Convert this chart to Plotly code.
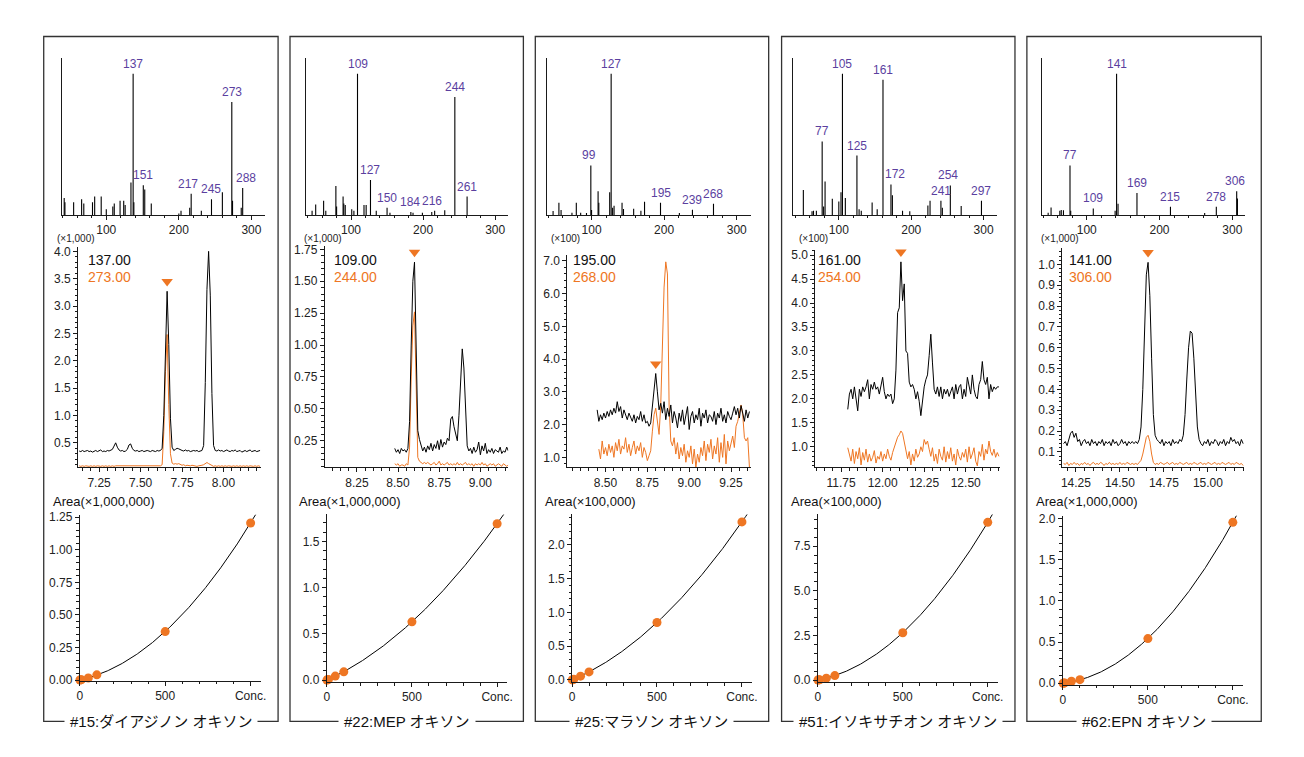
import numpy as np
import plotly.graph_objects as go

W, H = 1304, 757

# ---------------- data ----------------
compounds = ["#15:ダイアジノン オキソン", "#22:MEP オキソン", "#25:マラソン オキソン",
             "#51:イソキサチオン オキソン", "#62:EPN オキソン"]

# mass spectra: m/z and relative intensity (%)
ms1_mz = [42, 43, 55, 66, 69, 81, 84, 93, 100, 109, 111, 119, 124, 126, 134, 137, 138, 151, 153,
          162, 200, 203, 215, 217, 231, 245, 260, 273, 274, 286, 288]
ms1_int = [12, 9, 9, 11, 8, 9, 13, 13, 4, 6, 8, 10, 10, 7, 23, 100, 9, 21, 18,
           8, 1, 3, 5, 15, 3, 11, 16, 80, 10, 5, 19]
ms2_mz = [46, 51, 62, 65, 79, 80, 89, 90, 92, 101, 104, 109, 118, 121, 127, 135, 150, 154, 183,
          186, 199, 212, 216, 230, 244, 261]
ms2_int = [3, 7.4, 10, 3, 20.5, 6, 13, 8, 7, 4, 3, 100, 7, 7, 24.7, 3, 5, 1.5, 2,
           1.5, 1.5, 2, 3, 3.3, 83.5, 13]
ms3_mz = [47, 55, 58, 73, 79, 85, 93, 99, 100, 109, 110, 125, 127, 129, 131, 142, 144, 158, 168,
          173, 195, 221, 239, 268]
ms3_int = [2.7, 8.6, 3.5, 1.5, 8.6, 1.5, 1.4, 35, 3.5, 16.7, 8.6, 16, 100, 5, 6.5, 8.6, 4.2, 4.4, 3,
           9.3, 8.6, 1.4, 3.7, 7.9]
ms4_mz = [51, 63, 65, 69, 77, 79, 81, 91, 100, 103, 105, 109, 125, 128, 131, 146, 153, 161, 172,
          174, 188, 198, 223, 226, 241, 243, 254, 269, 297]
ms4_int = [17.6, 2.5, 3, 3, 52, 6, 23.7, 11.4, 9.5, 16, 100, 12, 42, 4, 3, 8.8, 4, 95.8, 21.6,
           14, 3, 2.5, 6.7, 10, 10, 5, 20.9, 6.3, 10]
ms5_mz = [47, 51, 63, 65, 68, 77, 78, 109, 139, 141, 143, 169, 215, 262, 278, 306, 307]
ms5_int = [1.6, 5.3, 3, 3.5, 3.2, 35, 3, 4.6, 3, 100, 7.9, 15.5, 5.8, 1.4, 5.8, 16.7, 11.6]
ms_labels = [[137, 151, 217, 245, 273, 288],
             [109, 127, 150, 184, 216, 244, 261],
             [99, 127, 195, 239, 268],
             [77, 105, 125, 161, 172, 241, 254, 297],
             [77, 109, 141, 169, 215, 278, 306]]
ms_label_ref = [[137, 151, 217, 245, 273, 288],
                [109, 127, 150, 183, 216, 244, 261],
                [99, 127, 195, 239, 268],
                [77, 105, 125, 161, 172, 241, 254, 297],
                [77, 109, 141, 169, 215, 278, 306]]

# chromatograms (sampling interval 0.01 min)
ion_target = ["137.00", "109.00", "195.00", "161.00", "141.00"]
ion_qual = ["273.00", "244.00", "268.00", "254.00", "306.00"]
chrom_scale = ["(×1,000)", "(×1,000)", "(×100)", "(×100)", "(×1,000)"]
rt_target = [7.66, 8.60, 8.80, 12.11, 14.66]
dt = 0.01

c1_t0_black, c1_t0_orange = 7.13, 7.13
c1_black = [.35, .34, .36, .34, .35, .36, .34, .35, .33, .35,
            .36, .34, .35, .37, .34, .35, .34, .36, .35, .36,
            .38, .44, .50, .42, .37, .35, .36, .34, .35, .38,
            .46, .48, .40, .36, .35, .36, .34, .35, .36, .34,
            .35, .36, .35, .34, .36, .35, .34, .36, .35, .36,
            .40, 1.00, 2.20, 3.27, 2.30, .95, .42, .36, .38, .40,
            .39, .37, .36, .35, .37, .35, .36, .34, .35, .36,
            .35, .36, .34, .35, .36, .45, 1.60, 3.30, 4.00, 3.20,
            1.40, .45, .36, .35, .37, .35, .36, .34, .35, .37,
            .35, .34, .36, .35, .37, .34, .35, .36, .33, .35,
            .36, .34, .35, .37, .34, .35, .36, .34, .35, .36]
c1_orange = [.08, .07, .08, .07, .08, .07, .07, .08, .07, .08,
             .07, .08, .07, .07, .08, .07, .08, .07, .08, .07,
             .08, .07, .08, .08, .07, .08, .07, .08, .07, .08,
             .07, .08, .07, .08, .07, .07, .08, .07, .08, .07,
             .08, .07, .08, .07, .07, .08, .07, .08, .07, .08,
             .10, .70, 1.80, 2.48, 1.20, .30, .13, .11, .12, .11,
             .12, .10, .09, .10, .08, .09, .08, .08, .09, .08,
             .08, .07, .08, .08, .09, .10, .12, .14, .12, .10,
             .08, .07, .08, .07, .08, .07, .08, .07, .08, .07,
             .08, .07, .07, .08, .07, .08, .07, .08, .07, .08,
             .07, .08, .07, .08, .07, .07, .08, .07, .08, .07]

c2_t0_black, c2_t0_orange = 8.48, 8.48
c2_black = [.19, .16, .18, .15, .19, .17, .18, .16, .19, .40,
            1.00, 1.50, 1.65, 1.00, .33, .26, .22, .17, .20, .16,
            .21, .18, .23, .17, .22, .19, .25, .18, .26, .20,
            .24, .22, .27, .25, .42, .44, .36, .30, .25, .45,
            .78, .97, .82, .48, .21, .17, .19, .15, .20, .16,
            .18, .24, .14, .21, .17, .23, .15, .18, .16, .19,
            .15, .18, .17, .16, .20, .15, .17, .16, .20, .17]
c2_orange = [.07, .06, .07, .05, .06, .06, .05, .07, .06, .20,
             .75, 1.15, 1.26, .55, .12, .09, .08, .07, .08, .07,
             .08, .07, .06, .07, .08, .06, .07, .09, .06, .07,
             .06, .07, .08, .06, .07, .06, .07, .06, .08, .06,
             .07, .06, .07, .08, .06, .07, .06, .07, .05, .07,
             .06, .07, .06, .08, .06, .07, .05, .06, .07, .06,
             .07, .05, .06, .07, .06, .05, .07, .06, .05, .06]

c3_t0_black, c3_t0_orange = 8.45, 8.46
c3_black = [2.45, 2.10, 2.30, 2.15, 2.35, 2.20, 2.40, 2.25, 2.45, 2.30,
            2.50, 2.35, 2.70, 2.40, 2.55, 2.20, 2.45, 2.30, 2.15, 2.35,
            2.25, 2.10, 2.30, 2.05, 2.25, 2.15, 2.40, 2.10, 2.30, 2.05,
            2.10, 1.95, 2.05, 2.60, 3.20, 3.56, 3.00, 2.45, 2.65, 2.35,
            2.70, 2.15, 2.50, 2.25, 2.60, 2.05, 2.40, 2.20, 1.90, 2.35,
            2.10, 2.45, 2.00, 2.30, 2.55, 1.85, 2.25, 2.40, 2.05, 2.30,
            2.15, 2.50, 1.95, 2.35, 2.20, 2.45, 2.05, 2.30, 2.25, 2.10,
            2.40, 2.00, 2.35, 2.20, 2.50, 2.10, 2.30, 2.05, 2.40, 2.25,
            2.15, 2.35, 2.55, 2.30, 2.50, 2.20, 2.58, 2.35, 2.10, 2.45,
            2.20, 2.40]
c3_orange = [1.25, 0.95, 1.50, 1.10, 1.30, 1.05, 1.40, 1.15, 1.35, 1.00,
             1.45, 1.20, 1.55, 1.10, 1.35, 1.25, 1.60, 1.15, 1.40, 1.05,
             1.30, 1.50, 1.10, 1.35, 1.20, 1.45, 1.00, 1.30, 1.15, 0.90,
             1.05, 1.20, 1.80, 2.30, 2.50, 2.00, 1.70, 2.60, 4.20, 6.20,
             6.97, 6.60, 2.60, 1.50, 1.35, 1.60, 1.10, 1.45, 0.95, 1.30,
             1.05, 1.40, 0.85, 1.20, 1.00, 1.35, 0.80, 1.25, 0.70, 1.10,
             0.85, 1.30, 1.05, 1.50, 0.90, 1.40, 1.15, 1.55, 0.95, 1.35,
             1.10, 1.60, 0.85, 1.45, 1.00, 1.70, 0.80, 1.50, 1.20, 1.40,
             1.65, 1.30, 1.95, 2.10, 2.40, 2.60, 2.30, 1.60, 1.50, 1.60,
             0.70]

c4_t0_black, c4_t0_orange = 11.79, 11.79
c4_black = [1.78, 2.10, 2.20, 2.00, 2.25, 1.95, 1.75, 2.20, 2.05, 2.25,
            2.15, 2.25, 2.40, 2.00, 2.30, 2.20, 2.35, 2.20, 2.25, 2.10,
            2.30, 2.45, 2.15, 2.00, 2.10, 2.05, 2.10, 1.90, 2.00, 2.60,
            3.80, 3.90, 4.86, 4.05, 4.40, 3.00, 2.95, 2.35, 2.25, 2.30,
            2.20, 2.00, 2.15, 1.95, 1.65, 2.00, 2.25, 2.40, 2.50, 2.90,
            3.35, 2.75, 2.20, 2.10, 2.25, 2.05, 2.25, 2.00, 2.20, 2.10,
            2.20, 2.05, 2.15, 2.25, 2.00, 2.30, 2.10, 2.25, 2.30, 2.00,
            2.20, 2.05, 2.45, 2.25, 2.10, 2.50, 2.20, 2.05, 2.00, 2.30,
            2.40, 2.78, 2.40, 2.30, 2.45, 2.00, 2.30, 2.15, 2.25, 2.20,
            2.25, 2.25]
c4_orange = [0.98, 0.85, 0.70, 0.95, 0.65, 0.90, 0.75, 0.98, 0.62, 0.88,
             0.72, 0.95, 0.68, 0.85, 0.70, 0.78, 0.92, 0.66, 0.80, 0.74,
             0.90, 0.70, 0.85, 0.75, 0.95, 0.80, 0.72, 0.88, 1.00, 1.10,
             1.20, 1.25, 1.33, 1.28, 1.10, 1.00, 0.75, 0.90, 0.62, 0.85,
             0.70, 0.95, 0.78, 0.85, 1.00, 0.90, 1.15, 1.05, 1.12, 0.95,
             0.80, 0.98, 0.70, 0.85, 0.65, 0.95, 0.80, 0.72, 1.00, 0.68,
             0.90, 0.75, 0.98, 0.70, 0.85, 0.62, 0.95, 0.80, 0.72, 0.88,
             0.78, 0.95, 0.68, 1.00, 0.75, 0.85, 0.98, 0.70, 0.60, 0.90,
             0.80, 1.05, 0.72, 0.95, 0.85, 1.12, 0.90, 0.82, 0.95, 0.78,
             0.88, 0.80]

c5_t0_black, c5_t0_orange = 14.18, 14.18
c5_black = [.14, .15, .13, .16, .19, .20, .17, .19, .15, .16,
            .13, .15, .16, .14, .15, .13, .16, .14, .15, .13,
            .15, .14, .16, .13, .15, .14, .15, .13, .16, .14,
            .15, .13, .14, .16, .14, .15, .13, .15, .14, .15,
            .14, .15, .14, .16, .22, .40, .70, .95, 1.01, .85,
            .55, .28, .18, .16, .15, .14, .16, .13, .15, .14,
            .15, .13, .16, .14, .15, .14, .16, .15, .18, .28,
            .45, .60, .68, .67, .55, .38, .22, .16, .14, .13,
            .15, .14, .16, .13, .15, .14, .16, .15, .13, .15,
            .14, .16, .13, .15, .14, .17, .15, .16, .14, .15,
            .13, .16, .14]
c5_orange = [.045, .040, .050, .035, .045, .040, .050, .040, .045, .035,
             .045, .040, .050, .040, .045, .035, .045, .050, .040, .045,
             .040, .050, .045, .035, .045, .040, .050, .040, .045, .040,
             .045, .040, .050, .040, .045, .040, .050, .045, .040, .045,
             .040, .045, .040, .050, .060, .090, .140, .170, .180, .150,
             .090, .050, .040, .045, .040, .050, .045, .040, .045, .050,
             .040, .045, .050, .040, .045, .040, .050, .045, .040, .045,
             .050, .040, .045, .040, .050, .045, .040, .045, .050, .040,
             .045, .040, .050, .045, .040, .045, .050, .040, .045, .040,
             .050, .045, .040, .045, .050, .040, .045, .040, .050, .045,
             .040, .045, .035]

# calibration curves
conc = [1, 5, 10, 50, 100, 500, 1000]
cal1 = [0.0005, 0.002, 0.003, 0.016, 0.040, 0.372, 1.205]
cal2 = [0.001, 0.004, 0.008, 0.044, 0.090, 0.630, 1.690]
cal3 = [0.001, 0.005, 0.011, 0.056, 0.119, 0.850, 2.340]
cal4 = [0.002, 0.009, 0.018, 0.106, 0.248, 2.650, 8.830]
cal5 = [0.0005, 0.002, 0.004, 0.024, 0.044, 0.543, 1.956]
area_unit = ["Area(×1,000,000)", "Area(×1,000,000)", "Area(×100,000)",
             "Area(×100,000)", "Area(×1,000,000)"]

spectra = [(ms1_mz, ms1_int), (ms2_mz, ms2_int), (ms3_mz, ms3_int), (ms4_mz, ms4_int), (ms5_mz, ms5_int)]
chroms = [(c1_t0_black, c1_black, c1_t0_orange, c1_orange),
          (c2_t0_black, c2_black, c2_t0_orange, c2_orange),
          (c3_t0_black, c3_black, c3_t0_orange, c3_orange),
          (c4_t0_black, c4_black, c4_t0_orange, c4_orange),
          (c5_t0_black, c5_black, c5_t0_orange, c5_orange)]
cals = [cal1, cal2, cal3, cal4, cal5]

# ---------------- layout (pixels) ----------------
ORANGE = "#ee7623"
PURPLE = "#5b3f9f"
INK = "#1a1a1a"
FONT = "Liberation Sans, Arial, sans-serif"
JFONT = "Liberation Sans, Noto Sans CJK JP, sans-serif"

BOX = [(41, 277), (289, 524), (536, 771), (784, 1019), (1031, 1267)]
BOX_TOP, BOX_BOT = 33, 728
SPEC_X = [(59, 264), (304.7, 508.7), (547.7, 752.7), (795.7, 1001.3), (1046.7, 1250.7)]
SPEC_Y = (55, 214)
SPEC_R = [(38.4, 319), (37, 318), (38.5, 319), (37, 319), (39.2, 317.5)]
LBL_SHIFT = [{217: -3, 288: 3},
             {184: -1, 216: -3},
             {99: -1.5},
             {172: 4.5, 254: -2},
             {306: -1.5}]
CHR_X = [(75.7, 260), (324, 508.7), (568.3, 753.3), (818, 1003.7), (1066.7, 1250)]
CHR_TOP = [247, 246, 255, 250, 248]
CHR_BOT = 470
CHR_XR = [(7.124, 8.227), (8.055, 9.169), (8.272, 9.37), (11.595, 12.705), (14.173, 15.207)]
CHR_YR = [(0.055, 4.072), (0.043, 1.773), (0.70, 7.17), (0.574, 5.10), (0.027, 1.077)]
CHR_DT = [0.5, 0.25, 1.0, 0.5, 0.1]
CHR_FMT = [".1f", ".2f", ".1f", ".1f", ".1f"]
CHR_MINOR = [0.1, 0.05, 0.2, 0.1, 0.02]
ION_DX = [7.5, 7.3, 3.4, 1.0, 5.0]
CAL_X = [(77.3, 259.3), (326, 507.5), (573, 754), (820.5, 1001.5), (1067.3, 1248.3)]
CAL_Y = [(518.3, 686.7), (518, 688), (518, 688), (518, 688), (519.3, 690.7)]
CAL_YR = [(-0.005, 1.268), (-0.02, 1.79), (-0.03, 2.45), (-0.11, 9.27), (-0.017, 2.036)]
CAL_DT = [0.25, 0.5, 0.5, 2.5, 0.5]
CAL_FMT = [".2f", ".1f", ".1f", ".1f", ".1f"]
CAL_MINOR = [0.05, 0.1, 0.1, 0.5, 0.1]


def px(x):
    return x / W


def py(y):
    return 1 - y / H


fig = go.Figure()
layout = {}
annotations = []
shapes = []


def axname(n, a):
    return f"{a}axis" if n == 1 else f"{a}axis{n}"


def ref(n, a):
    return a if n == 1 else f"{a}{n}"


base_axis = dict(showline=True, linecolor=INK, linewidth=1, showgrid=False, zeroline=False,
                 ticks="outside", tickcolor=INK, tickwidth=1, ticklen=4,
                 tickfont=dict(family=FONT, size=12, color="#222"), fixedrange=True)

for p in range(5):
    bl, br = BOX[p]
    shapes.append(dict(type="rect", xref="paper", yref="paper", x0=px(bl), x1=px(br),
                       y0=py(BOX_BOT), y1=py(BOX_TOP), line=dict(color="#333", width=1.3),
                       fillcolor="rgba(0,0,0,0)", layer="below"))
    annotations.append(dict(xref="paper", yref="paper", x=px((bl + br) / 2), y=py(BOX_BOT),
                            text=compounds[p], showarrow=False, xanchor="center", yanchor="middle",
                            font=dict(family=JFONT, size=15, color="#111"),
                            bgcolor="white", borderpad=5))

    # ---- mass spectrum ----
    n = p * 3 + 1
    mz, inten = spectra[p]
    xs, ys = [], []
    for m, v in zip(mz, inten):
        xs += [m, m, None]
        ys += [0, v, None]
    fig.add_trace(go.Scatter(x=xs, y=ys, mode="lines", line=dict(color="black", width=1.1),
                             xaxis=ref(n, "x"), yaxis=ref(n, "y"), hoverinfo="skip", showlegend=False))
    layout[axname(n, "x")] = dict(base_axis, domain=[px(SPEC_X[p][0]), px(SPEC_X[p][1])],
                                  range=list(SPEC_R[p]), anchor=ref(n, "y"),
                                  tickmode="array", tickvals=[100, 200, 300],
                                  minor=dict(tickvals=list(range(40, 321, 20)), ticklen=2.5,
                                             ticks="outside", tickcolor=INK))
    layout[axname(n, "y")] = dict(showline=True, linecolor=INK, linewidth=1, showgrid=False,
                                  zeroline=False, ticks="", showticklabels=False,
                                  domain=[py(SPEC_Y[1]), py(SPEC_Y[0])], range=[0, 111],
                                  anchor=ref(n, "x"), fixedrange=True)
    for lab, m_ref in zip(ms_labels[p], ms_label_ref[p]):
        idx = mz.index(m_ref) if m_ref in mz else min(range(len(mz)), key=lambda i: abs(mz[i] - m_ref))
        annotations.append(dict(xref=ref(n, "x"), yref=ref(n, "y"), x=mz[idx], y=inten[idx],
                                text=str(lab), showarrow=False, xanchor="center", yanchor="bottom",
                                yshift=1, xshift=LBL_SHIFT[p].get(lab, 0),
                                font=dict(family=FONT, size=12, color=PURPLE)))

    # ---- chromatogram ----
    n = p * 3 + 2
    t0b, yb, t0o, yo = chroms[p]
    tb = [round(t0b + dt * i, 4) for i in range(len(yb))]
    to = [round(t0o + dt * i, 4) for i in range(len(yo))]
    fig.add_trace(go.Scatter(x=to, y=yo, mode="lines", line=dict(color=ORANGE, width=1),
                             xaxis=ref(n, "x"), yaxis=ref(n, "y"), hoverinfo="skip", showlegend=False))
    fig.add_trace(go.Scatter(x=tb, y=yb, mode="lines", line=dict(color="black", width=1),
                             xaxis=ref(n, "x"), yaxis=ref(n, "y"), hoverinfo="skip", showlegend=False))
    k = min(range(len(tb)), key=lambda i: abs(tb[i] - rt_target[p]))
    apex = max(yb[max(0, k - 1):k + 2])
    span = CHR_YR[p][1] - CHR_YR[p][0]
    fig.add_trace(go.Scatter(x=[tb[k]], y=[apex + 0.045 * span], mode="markers",
                             marker=dict(symbol="triangle-down", size=10, color=ORANGE),
                             xaxis=ref(n, "x"), yaxis=ref(n, "y"), hoverinfo="skip",
                             showlegend=False, cliponaxis=False))
    layout[axname(n, "x")] = dict(base_axis, domain=[px(CHR_X[p][0]), px(CHR_X[p][1])],
                                  range=list(CHR_XR[p]), anchor=ref(n, "y"),
                                  tick0=0, dtick=0.25, tickformat=".2f",
                                  minor=dict(tick0=0, dtick=0.05, ticklen=2.5, ticks="outside",
                                             tickcolor=INK))
    layout[axname(n, "y")] = dict(base_axis, domain=[py(CHR_BOT), py(CHR_TOP[p])],
                                  range=list(CHR_YR[p]), anchor=ref(n, "x"),
                                  tick0=0, dtick=CHR_DT[p], tickformat=CHR_FMT[p],
                                  minor=dict(tick0=0, dtick=CHR_MINOR[p], ticklen=2.5,
                                             ticks="outside", tickcolor=INK))
    ax0 = CHR_X[p][0]
    annotations.append(dict(xref="paper", yref="paper", x=px(ax0 - 2), y=py(238),
                            text=chrom_scale[p], showarrow=False, xanchor="center", yanchor="middle",
                            font=dict(family=FONT, size=10, color="#222")))
    annotations.append(dict(xref="paper", yref="paper", x=px(ax0 + ION_DX[p]), y=py(260),
                            text=ion_target[p], showarrow=False, xanchor="left", yanchor="middle",
                            font=dict(family=FONT, size=14, color="#111")))
    annotations.append(dict(xref="paper", yref="paper", x=px(ax0 + ION_DX[p]), y=py(277),
                            text=ion_qual[p], showarrow=False, xanchor="left", yanchor="middle",
                            font=dict(family=FONT, size=14, color=ORANGE)))

    # ---- calibration curve ----
    n = p * 3 + 3
    area = cals[p]
    coef = np.polyfit(conc, area, 2)
    xf = np.linspace(0, 1040, 300)
    fig.add_trace(go.Scatter(x=xf, y=np.polyval(coef, xf), mode="lines",
                             line=dict(color="black", width=1),
                             xaxis=ref(n, "x"), yaxis=ref(n, "y"), hoverinfo="skip", showlegend=False))
    fig.add_trace(go.Scatter(x=conc, y=area, mode="markers",
                             marker=dict(size=9, color=ORANGE, line=dict(width=0)),
                             xaxis=ref(n, "x"), yaxis=ref(n, "y"), hoverinfo="skip",
                             showlegend=False, cliponaxis=False))
    layout[axname(n, "x")] = dict(base_axis, domain=[px(CAL_X[p][0]), px(CAL_X[p][1])],
                                  range=[0, 1058], anchor=ref(n, "y"),
                                  tickmode="array", tickvals=[0, 500, 1000],
                                  ticktext=["0", "500", "Conc."],
                                  minor=dict(tickvals=list(range(100, 1001, 100)), ticklen=2.5,
                                             ticks="outside", tickcolor=INK))
    layout[axname(n, "y")] = dict(base_axis, domain=[py(CAL_Y[p][1]), py(CAL_Y[p][0])],
                                  range=list(CAL_YR[p]), anchor=ref(n, "x"),
                                  tick0=0, dtick=CAL_DT[p], tickformat=CAL_FMT[p],
                                  minor=dict(tick0=0, dtick=CAL_MINOR[p], ticklen=2.5,
                                             ticks="outside", tickcolor=INK))
    annotations.append(dict(xref="paper", yref="paper", x=px(bl + 7.5), y=py(505),
                            text=area_unit[p], showarrow=False, xanchor="left", yanchor="middle",
                            font=dict(family=FONT, size=13, color="#111")))

fig.update_layout(width=W, height=H, margin=dict(l=0, r=0, t=0, b=0), autosize=False,
                  paper_bgcolor="white", plot_bgcolor="white", showlegend=False,
                  annotations=annotations, shapes=shapes, **layout)

fig.write_html("out.html", config={"staticPlot": True},
               post_script="document.body.style.margin='0';document.body.style.overflow='hidden';")
